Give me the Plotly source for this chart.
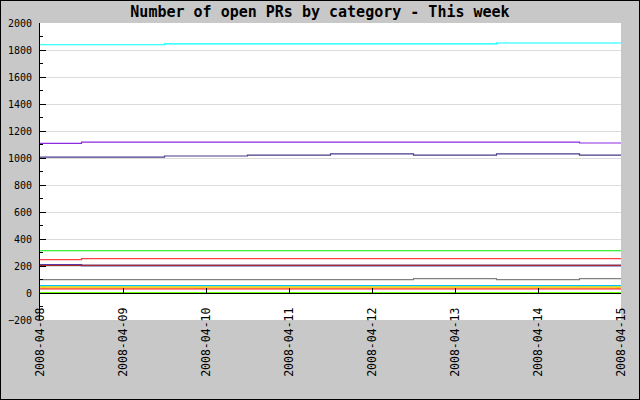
import plotly.graph_objects as go

dates = ["2008-04-08", "2008-04-09", "2008-04-10", "2008-04-11",
         "2008-04-12", "2008-04-13", "2008-04-14", "2008-04-15"]

# open PR counts per category
cat_aqua = [1839, 1839, 1845, 1845, 1845, 1845, 1852, 1852]
cat_violet = [1108, 1118, 1118, 1118, 1118, 1118, 1118, 1111]
cat_slate = [1007, 1007, 1015, 1022, 1030, 1022, 1030, 1022]
cat_green = [313, 313, 313, 313, 313, 313, 313, 313]
cat_salmon = [247, 254, 254, 254, 254, 254, 254, 254]
cat_navy = [208, 204, 204, 204, 204, 204, 204, 204]
cat_brown = [204, 204, 204, 204, 204, 204, 204, 204]
cat_gray = [99, 99, 99, 99, 99, 106, 99, 106]
cat_sky = [54, 54, 54, 54, 54, 54, 54, 54]
cat_yellow = [47, 47, 47, 47, 47, 47, 47, 47]
cat_orange = [39, 39, 39, 39, 39, 39, 39, 39]
cat_red = [31, 31, 31, 31, 31, 31, 31, 31]
cat_lime = [0, 0, 0, 0, 0, 0, 0, 0]

series = [
    ("lime", cat_lime, "#66ff00", 2),
    ("red", cat_red, "#ff2020", 1.2),
    ("orange", cat_orange, "#ffa500", 1.2),
    ("yellow", cat_yellow, "#ffee00", 1.2),
    ("sky", cat_sky, "#00bfff", 1.2),
    ("gray", cat_gray, "#808080", 1.2),
    ("navy", cat_navy, "#0000b0", 1.5),
    ("brown", cat_brown, "#a52a2a", 1.2),
    ("salmon", cat_salmon, "#ff4040", 1.2),
    ("green", cat_green, "#00ee00", 1.2),
    ("slate", cat_slate, "#483d8b", 1.2),
    ("violet", cat_violet, "#8a2be2", 1.2),
    ("aqua", cat_aqua, "#00ffff", 1.2),
]

fig = go.Figure()
for name, vals, color, w in series:
    fig.add_trace(go.Scatter(x=dates, y=vals, mode="lines", name=name,
                             line=dict(color=color, width=w, shape="hvh"),
                             showlegend=False, hoverinfo="skip"))

W, H = 640, 400
ml, mr, mt, mb = 40, 19, 23, 80
pw, ph = W - ml - mr, H - mt - mb
ymin, ymax = -200, 2000

fig.update_layout(
    width=W, height=H,
    margin=dict(l=ml, r=mr, t=mt, b=mb, autoexpand=False),
    paper_bgcolor="#c8c8c8",
    plot_bgcolor="#ffffff",
    title=dict(text="<b>Number of open PRs by category - This week</b>",
               x=0.5, xanchor="center", y=1 - 12 / H, yanchor="middle",
               font=dict(family="DejaVu Sans Mono", size=15, color="#000000")),
    xaxis=dict(
        type="date", range=[dates[0], dates[-1]],
        anchor="free", position=(0 - ymin) / (ymax - ymin),
        tickvals=dates, ticktext=dates, tickangle=-90,
        ticks="inside", ticklen=5, tickcolor="#000000",
        showline=True, linecolor="#000000", linewidth=1,
        showgrid=False, zeroline=False, automargin=False,
        ticklabelstandoff=9,
        tickfont=dict(family="DejaVu Sans Mono", size=11.5, color="#000000"),
    ),
    yaxis=dict(
        range=[ymin, ymax], dtick=200, tick0=0,
        ticks="inside", ticklen=6, tickcolor="#000000",
        minor=dict(dtick=100, ticks="inside", ticklen=3, tickcolor="#000000", showgrid=False),
        showline=True, linecolor="#000000", linewidth=1,
        showgrid=True, gridcolor="#dcdcdc", gridwidth=1,
        zeroline=False, automargin=False,
        ticklabelstandoff=5,
        tickfont=dict(family="DejaVu Sans Mono", size=10, color="#000000"),
    ),
)

fig.add_shape(type="rect", xref="paper", yref="paper",
              x0=-ml / pw, x1=(pw + mr) / pw,
              y0=-mb / ph, y1=(ph + mt) / ph,
              line=dict(color="#000000", width=2), layer="above")

fig.write_html("out.html",
               config={"displayModeBar": False},
               post_script="document.body.style.margin='0';document.body.style.padding='0';")
